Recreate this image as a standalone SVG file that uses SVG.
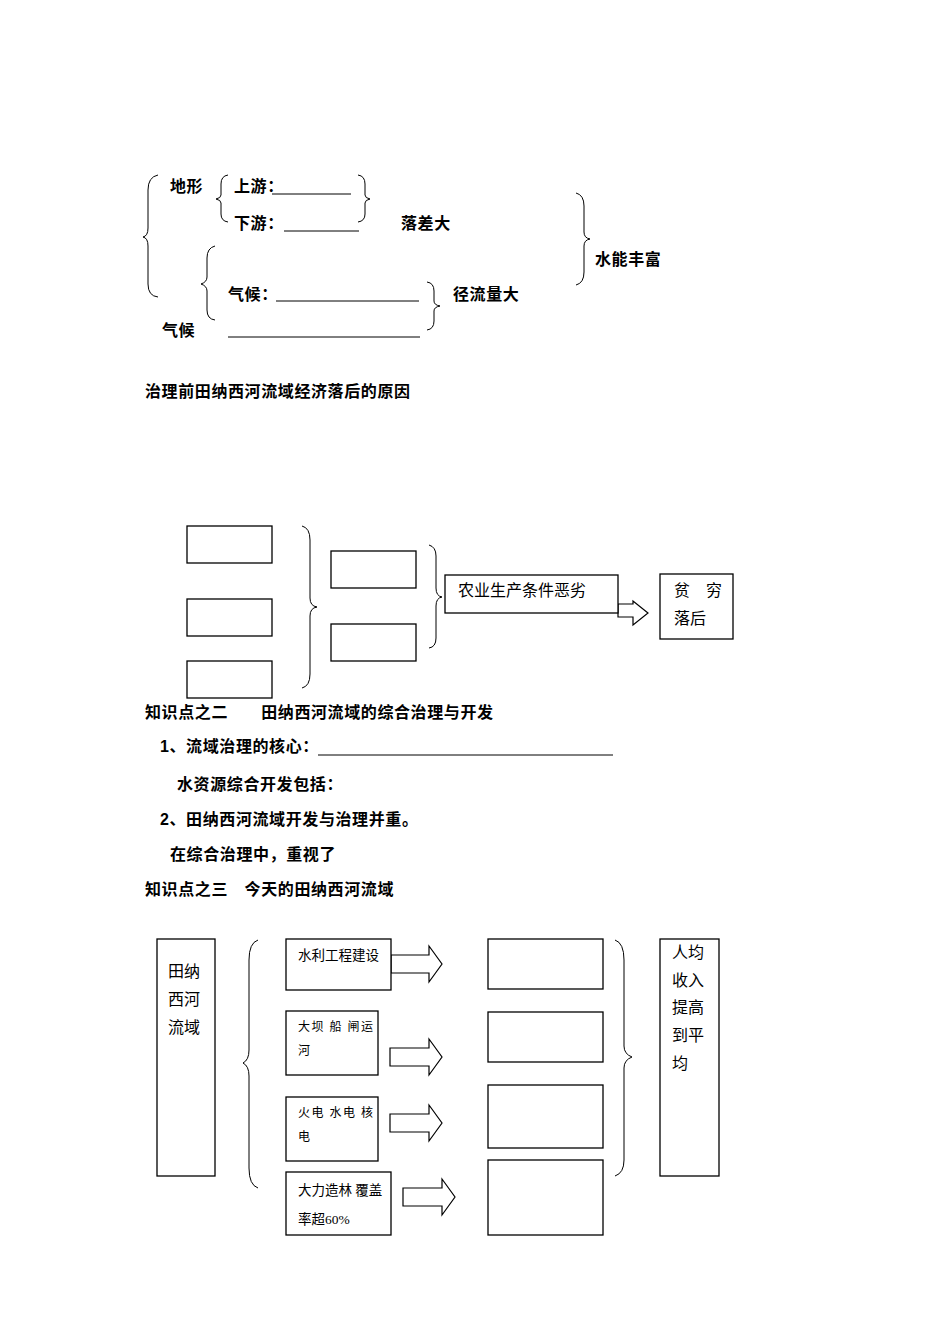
<svg xmlns="http://www.w3.org/2000/svg" width="950" height="1344" viewBox="0 0 950 1344">
<style>
.b{font-family:"Liberation Sans","Noto Sans CJK SC",sans-serif;font-size:16px;font-weight:bold;fill:#000;letter-spacing:0.6px}
.s{font-family:"Liberation Serif","Noto Sans CJK SC",serif;font-size:16px;fill:#000}
.t{font-family:"Liberation Serif","Noto Sans CJK SC",serif;font-size:13.5px;fill:#000}
.sm{font-family:"Liberation Serif","Noto Sans CJK SC",serif;font-size:12px;fill:#000;letter-spacing:1.5px}
.ln{stroke:#000;stroke-width:1;fill:none}
.bx{stroke:#000;stroke-width:1.3;fill:#fff}
.ar{stroke:#000;stroke-width:1.2;fill:#fff}
</style>
<rect width="950" height="1344" fill="#fff"/>
<g id="connectors">
<path class="ln" d="M158,175 Q148,177 148,190 L148,228 Q148,236 143,237 Q148,238 148,246 L148,284 Q148,296 158,297"/>
<path class="ln" d="M228,175 Q221,176 221,184 L221,195 Q221,198 216,199 Q221,200 221,203 L221,214 Q221,221 228,222"/>
<path class="ln" d="M358,175 Q365,176 365,184 L365,195 Q365,198 370,199 Q365,200 365,203 L365,214 Q365,221 358,222"/>
<path class="ln" d="M576,193 Q584,195 584,206 L584,232 Q584,238 590,239 Q584,240 584,246 L584,272 Q584,283 576,285"/>
<path class="ln" d="M215,246 Q207,248 207,258 L207,277 Q207,282 201,284 Q207,286 207,291 L207,310 Q207,319 215,320"/>
<path class="ln" d="M427,282 Q434,283 434,291 L434,301 Q434,305 440,306 Q434,307 434,311 L434,321 Q434,329 427,330"/>
<line class="ln" x1="272" y1="194" x2="351" y2="194"/>
<line class="ln" x1="284" y1="231" x2="359" y2="231"/>
<line class="ln" x1="276" y1="301" x2="419" y2="301"/>
<line class="ln" x1="228" y1="337" x2="420" y2="337"/>
<path class="ln" d="M302,526 Q310,528 310,540 L310,598 Q310,606 317,607 Q310,608 310,616 L310,674 Q310,686 302,688"/>
<path class="ln" d="M429,545 Q436,547 436,556 L436,588 Q436,596 442,597 Q436,598 436,606 L436,638 Q436,647 429,648"/>
<path class="ar" d="M618,604 L633,604 L633,601 L648,613 L633,625 L633,617 L618,617 Z"/>
<line class="ln" x1="318" y1="755" x2="613" y2="755"/>
<path class="ln" d="M258,940 Q249,943 249,960 L249,1050 Q249,1060 243,1063 Q249,1066 249,1076 L249,1168 Q249,1185 258,1188"/>
<path class="ln" d="M615,940 Q624,943 624,960 L624,1046 Q624,1054 632,1057 Q624,1060 624,1068 L624,1160 Q624,1173 615,1176"/>
<path class="ar" d="M391,955 L429,955 L429,946 L442,964 L429,982 L429,973 L391,973 Z"/>
<path class="ar" d="M390,1048 L429,1048 L429,1039 L442,1057 L429,1075 L429,1066 L390,1066 Z"/>
<path class="ar" d="M390,1114 L429,1114 L429,1105 L442,1123 L429,1141 L429,1132 L390,1132 Z"/>
<path class="ar" d="M403,1188 L442,1188 L442,1179 L455,1197 L442,1215 L442,1206 L403,1206 Z"/>
</g>
<g id="texts-top">
<text class="b" x="170" y="192">地形</text>
<text class="b" x="234" y="192">上游：</text>
<text class="b" x="234" y="229">下游：</text>
<text class="b" x="401" y="229">落差大</text>
<text class="b" x="595" y="265">水能丰富</text>
<text class="b" x="228" y="300">气候：</text>
<text class="b" x="453" y="300">径流量大</text>
<text class="b" x="162" y="336">气候</text>
<text class="b" x="145" y="397">治理前田纳西河流域经济落后的原因</text>
<text class="b" x="145" y="718">知识点之二　　田纳西河流域的综合治理与开发</text>
<text class="b" x="160" y="752">1、流域治理的核心：</text>
<text class="b" x="177" y="790">水资源综合开发包括：</text>
<text class="b" x="160" y="825">2、田纳西河流域开发与治理并重。</text>
<text class="b" x="170" y="860">在综合治理中，重视了</text>
<text class="b" x="145" y="895">知识点之三　今天的田纳西河流域</text>
</g>
<g id="n1"><rect class="bx" x="187" y="526" width="85" height="37"/></g>
<g id="n2"><rect class="bx" x="187" y="599" width="85" height="37"/></g>
<g id="n3"><rect class="bx" x="187" y="661" width="85" height="37"/></g>
<g id="n4"><rect class="bx" x="331" y="551" width="85" height="37"/></g>
<g id="n5"><rect class="bx" x="331" y="624" width="85" height="37"/></g>
<g id="n6"><rect class="bx" x="445" y="575" width="173" height="38"/><text class="s" x="458" y="596">农业生产条件恶劣</text></g>
<g id="n7"><rect class="bx" x="660" y="574" width="73" height="65"/><text class="s" x="674" y="596">贫　穷</text><text class="s" x="674" y="624">落后</text></g>
<g id="m1"><rect class="bx" x="157" y="939" width="58" height="237"/><text class="s" x="168" y="977">田纳</text><text class="s" x="168" y="1005">西河</text><text class="s" x="168" y="1033">流域</text></g>
<g id="m2"><rect class="bx" x="286" y="939" width="105" height="51"/><text class="t" x="298" y="960">水利工程建设</text></g>
<g id="m3"><rect class="bx" x="286" y="1011" width="92" height="64"/><text class="sm" x="298" y="1031">大坝 船 闸运</text><text class="sm" x="298" y="1055">河</text></g>
<g id="m4"><rect class="bx" x="286" y="1097" width="92" height="64"/><text class="sm" x="298" y="1117">火电 水电 核</text><text class="sm" x="298" y="1141">电</text></g>
<g id="m5"><rect class="bx" x="286" y="1172" width="105" height="63"/><text class="t" x="298" y="1195">大力造林 覆盖</text><text class="t" x="298" y="1224">率超60%</text></g>
<g id="r1"><rect class="bx" x="488" y="939" width="115" height="50"/></g>
<g id="r2"><rect class="bx" x="488" y="1012" width="115" height="50"/></g>
<g id="r3"><rect class="bx" x="488" y="1085" width="115" height="63"/></g>
<g id="r4"><rect class="bx" x="488" y="1160" width="115" height="75"/></g>
<g id="m6"><rect class="bx" x="660" y="939" width="59" height="237"/><text class="s" x="672" y="958">人均</text><text class="s" x="672" y="986">收入</text><text class="s" x="672" y="1013">提高</text><text class="s" x="672" y="1041">到平</text><text class="s" x="672" y="1069">均</text></g>
</svg>
